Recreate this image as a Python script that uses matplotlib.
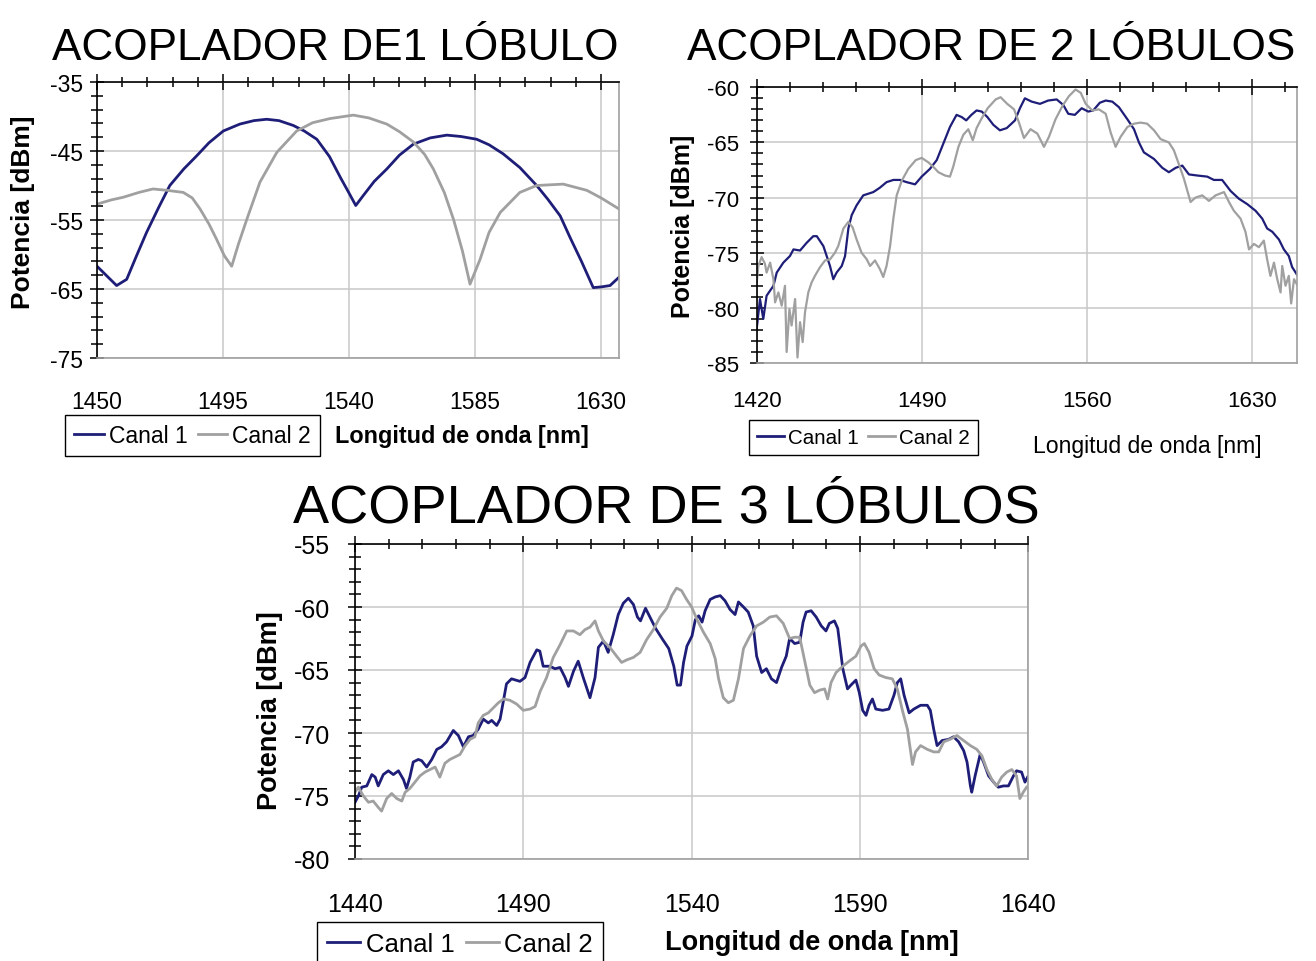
import matplotlib
matplotlib.use("Agg")
import matplotlib.pyplot as plt
from matplotlib.lines import Line2D
from matplotlib import font_manager
import numpy as np

plt.rcParams['font.family'] = ['Liberation Sans', 'DejaVu Sans']
plt.rcParams['axes.unicode_minus'] = False

# -----------------------------
# DATA
# -----------------------------

# 1 lobe coupler
lob1_c1_nm = [1450, 1453, 1457, 1460.6, 1464, 1467.7, 1472, 1476, 1481, 1485.6, 1490, 1495.1,
              1501, 1506, 1510.6, 1515, 1520.1, 1524, 1528.5, 1533, 1537, 1540, 1542.4, 1545,
              1549, 1553.5, 1558, 1563, 1569, 1574.9, 1580, 1585.6, 1590, 1595, 1601, 1607,
              1611, 1615.4, 1619, 1623, 1627.2, 1630, 1633.2, 1636.4]
lob1_c1_db = [-61.7, -62.9, -64.5, -63.6, -60.3, -56.8, -53.2, -50.0, -47.6, -45.7, -43.8, -42.1,
              -41.1, -40.6, -40.4, -40.6, -41.3, -42.1, -43.3, -45.8, -48.9, -51.1, -52.9, -51.5,
              -49.4, -47.6, -45.6, -44.0, -43.1, -42.7, -42.9, -43.3, -44.1, -45.4, -47.4, -50.0,
              -52.0, -54.4, -57.6, -61.0, -64.8, -64.7, -64.5, -63.3]
lob1_c2_nm = [1450, 1455, 1459.4, 1465, 1470, 1475, 1480.8, 1484, 1486.8, 1490, 1492.7, 1495.5,
              1498.1, 1500.5, 1503.5, 1508.2, 1514.2, 1521.3, 1527, 1533.2, 1541.5, 1547, 1553.5,
              1558, 1563, 1567, 1570.1, 1574, 1577.3, 1580.5, 1583.2, 1586.8, 1590, 1594, 1601,
              1607, 1616.5, 1624.9, 1630, 1636.4]
lob1_c2_db = [-52.7, -52.1, -51.7, -51.0, -50.5, -50.7, -51.0, -51.8, -53.4, -55.6, -57.8, -60.2,
              -61.7, -58.5, -54.9, -49.5, -45.2, -42.1, -40.9, -40.3, -39.8, -40.2, -41.1,
              -42.2, -43.7, -45.5, -47.6, -51.0, -54.9, -59.5, -64.3, -60.7, -56.8, -53.9, -51.0,
              -50.0, -49.8, -50.7, -51.8, -53.4]

# 2 lobe coupler
lob2_c1_nm = [1420, 1421.4, 1422.8, 1424.2, 1427.1, 1428.5, 1431.3, 1434.1, 1435.6, 1438.4, 1441.2,
              1444.0, 1445.5, 1448.3, 1449.7, 1451.1, 1452.5, 1453.9, 1456.1, 1457.5, 1458.9,
              1460.3, 1462.4, 1465.2, 1469.5, 1472.3, 1475.1, 1478.0, 1480.8, 1483.6, 1487.2,
              1490.0, 1493.5, 1496.4, 1499.2, 1502.0, 1504.8, 1507.0, 1508.9, 1511.1, 1513.3,
              1515.5, 1517.9, 1520.4, 1523.2, 1526.1, 1529.6, 1531.7, 1533.8, 1536.7, 1540.2,
              1543.7, 1547.3, 1550.1, 1552.2, 1555.0, 1557.9, 1560.7, 1562.8, 1565.6, 1568.1,
              1570.9, 1573.7, 1577.3, 1580.1, 1582.2, 1584.3, 1588.6, 1592.1, 1594.9, 1597.8,
              1600.6, 1603.4, 1607.0, 1611.2, 1614.0, 1617.5, 1621.1, 1624.6, 1628.2, 1631.7,
              1634.5, 1636.6, 1638.8, 1641.6, 1643.7, 1645.8, 1647.2, 1648.7, 1649.6]
lob2_c1_db = [-81.9, -79.2, -81.0, -78.9, -78.0, -76.8, -75.9, -75.3, -74.7, -74.8, -74.1,
              -73.5, -73.5, -74.4, -75.3, -76.2, -77.4, -76.8, -76.2, -75.3, -72.8,
              -71.6, -70.7, -69.8, -69.5, -69.1, -68.6, -68.4, -68.4, -68.6, -68.8,
              -68.1, -67.4, -66.6, -65.1, -63.6, -62.5, -62.7, -63.0, -62.5, -62.1,
              -62.2, -62.7, -63.4, -63.9, -63.7, -63.0, -61.9, -61.0, -61.3, -61.5,
              -61.2, -61.1, -61.6, -62.4, -62.5, -61.9, -62.2, -62.1, -61.4, -61.2,
              -61.3, -61.8, -62.9, -63.8, -65.0, -65.9, -66.5, -67.3, -67.7, -67.3,
              -67.1, -67.9, -68.0, -68.1, -68.4, -68.4, -69.4, -70.1, -70.6, -71.2,
              -71.9, -72.8, -73.1, -73.8, -74.7, -75.3, -76.3, -76.8, -77.1]
lob2_c2_nm = [1420, 1420.7, 1422.1, 1423.5, 1424.2, 1425.7, 1427.1, 1427.8, 1429.2, 1430.6, 1432.0,
              1432.7, 1433.9, 1434.8, 1436.3, 1437.3, 1438.4, 1439.5, 1440.5, 1441.9, 1443.3,
              1444.7, 1446.9, 1449.0, 1451.1, 1453.2, 1454.6, 1456.8, 1458.9, 1460.7, 1462.4,
              1464.5, 1466.7, 1468.1, 1470.2, 1472.3, 1473.7, 1475.1, 1476.6, 1478.0, 1479.4,
              1481.5, 1484.3, 1487.5, 1490.0, 1492.8, 1494.9, 1497.1, 1499.9, 1502.0, 1503.4,
              1505.6, 1507.7, 1509.8, 1511.7, 1513.3, 1515.5, 1518.0, 1521.4, 1523.5, 1526.3,
              1529.2, 1531.3, 1533.4, 1536.2, 1539.1, 1541.9, 1544.0, 1546.8, 1549.7, 1552.5,
              1555.3, 1557.5, 1559.6, 1562.4, 1565.2, 1568.1, 1570.2, 1572.3, 1574.4, 1577.3,
              1580.1, 1582.9, 1585.7, 1588.6, 1591.4, 1594.9, 1597.0, 1599.2, 1601.3, 1604.1,
              1606.2, 1609.1, 1611.9, 1614.7, 1618.3, 1620.4, 1622.5, 1625.3, 1627.4, 1628.9,
              1631.0, 1633.1, 1635.2, 1636.6, 1638.0, 1639.5, 1640.9, 1642.3, 1643.0, 1644.4,
              1645.8, 1646.8, 1648.0, 1649.6]
lob2_c2_db = [-77.7, -76.2, -75.4, -76.0, -76.8, -75.9, -77.4, -79.5, -78.6, -79.8, -78.0,
              -84.0, -80.1, -81.6, -79.2, -84.5, -81.3, -83.1, -80.4, -78.6, -77.7,
              -77.1, -76.3, -75.7, -75.6, -75.0, -74.4, -72.8, -72.2, -72.7, -73.8,
              -75.0, -75.6, -76.2, -75.7, -76.5, -77.2, -76.2, -74.4, -71.9, -69.8,
              -68.5, -67.4, -66.6, -66.4, -66.8, -67.2, -67.7, -68.0, -68.1, -67.2,
              -65.4, -64.3, -63.8, -64.8, -63.7, -62.8, -61.9, -61.1, -60.9, -61.5,
              -62.0, -63.2, -64.6, -63.8, -64.2, -65.4, -64.5, -62.9, -61.7, -60.8,
              -60.2, -60.5, -61.5, -62.1, -62.0, -62.4, -64.1, -65.4, -64.5, -63.6,
              -63.3, -63.2, -63.3, -63.9, -64.7, -65.0, -65.7, -67.0, -68.3, -70.4,
              -70.0, -69.8, -70.3, -69.8, -69.5, -70.4, -71.2, -71.9, -73.1, -74.7,
              -74.2, -74.5, -73.9, -75.6, -77.1, -75.9, -77.4, -78.6, -76.2, -78.0,
              -77.1, -79.6, -77.4, -78.0]

# 3 lobe coupler
lob3_c1_nm = [1440, 1441.0, 1442.0, 1443.5, 1445.0, 1446.0, 1446.9, 1448.4, 1449.9, 1451.4, 1452.9,
              1454.4, 1455.3, 1456.3, 1457.3, 1458.8, 1459.8, 1461.3, 1462.8, 1464.3, 1465.7,
              1467.2, 1469.2, 1470.7, 1472.2, 1473.7, 1475.1, 1476.6, 1478.1, 1479.6, 1480.6,
              1482.1, 1483.1, 1485.0, 1486.5, 1489.0, 1490.5, 1492.0, 1494.0, 1494.9, 1495.9,
              1497.9, 1499.4, 1500.9, 1502.4, 1503.4, 1504.9, 1506.3, 1507.8, 1509.8, 1511.3,
              1512.3, 1513.8, 1515.2, 1516.7, 1518.2, 1519.7, 1521.2, 1522.7, 1523.9, 1524.8,
              1526.3, 1527.8, 1529.3, 1531.2, 1533.2, 1534.7, 1535.7, 1536.7, 1537.6, 1538.6,
              1540.1, 1541.1, 1542.1, 1543.1, 1544.0, 1545.5, 1547.0, 1548.5, 1549.9, 1551.4,
              1552.9, 1553.9, 1555.4, 1556.8, 1558.3, 1559.3, 1560.8, 1562.2, 1563.7, 1565.2,
              1566.7, 1568.1, 1569.1, 1570.6, 1572.1, 1573.1, 1574.0, 1575.5, 1577.0, 1578.5,
              1579.9, 1580.9, 1582.4, 1583.4, 1584.9, 1586.3, 1587.3, 1588.8, 1589.8, 1590.8,
              1591.8, 1592.7, 1593.7, 1594.7, 1596.7, 1598.6, 1600.1, 1601.1, 1602.1, 1603.1,
              1604.6, 1606.0, 1608.0, 1610.0, 1610.9, 1611.9, 1612.9, 1614.4, 1616.4, 1617.8,
              1619.3, 1620.8, 1621.8, 1622.8, 1623.2, 1624.2, 1625.7, 1626.7, 1628.2, 1629.7,
              1631.1, 1632.6, 1634.1, 1635.6, 1636.5, 1638.0, 1639.0, 1639.8]
lob3_c1_db = [-75.5, -75.0, -74.3, -74.2, -73.3, -73.5, -74.2, -73.3, -73.0, -73.3, -73.0,
              -73.7, -74.4, -73.5, -72.3, -72.1, -72.2, -72.7, -72.1, -71.3, -71.1,
              -70.7, -69.8, -70.2, -71.1, -70.3, -70.2, -69.7, -68.9, -69.2, -69.0,
              -69.4, -68.9, -66.1, -65.7, -65.9, -65.6, -64.4, -63.4, -63.5, -64.7,
              -64.7, -64.9, -64.8, -65.6, -66.3, -65.1, -64.3, -65.6, -67.2, -65.6,
              -63.2, -62.7, -63.6, -62.2, -60.6, -59.7, -59.3, -59.8, -60.8, -61.1,
              -60.1, -60.9, -61.7, -62.5, -63.3, -64.7, -66.2, -66.2, -64.4, -63.1,
              -62.3, -61.0, -60.7, -61.2, -60.3, -59.4, -59.2, -59.1, -59.5, -60.2,
              -60.6, -59.6, -60.0, -60.4, -61.5, -63.9, -65.2, -64.9, -65.7, -66.0,
              -64.8, -63.9, -62.5, -62.9, -62.8, -61.2, -60.4, -60.3, -60.8, -61.5,
              -61.9, -61.3, -61.1, -61.7, -64.9, -66.5, -66.2, -65.8, -66.8, -68.2,
              -68.6, -67.8, -67.3, -68.1, -68.2, -68.1, -67.0, -66.0, -65.7, -67.0,
              -68.4, -68.1, -67.8, -67.8, -68.2, -69.7, -71.0, -70.6, -70.5, -70.3,
              -70.7, -71.4, -72.3, -74.2, -74.7, -73.4, -71.7, -72.3, -73.4, -73.9,
              -74.3, -74.2, -74.2, -73.4, -73.0, -73.1, -73.9, -73.5]
lob3_c2_nm = [1440, 1441.0, 1442.5, 1444.0, 1445.4, 1446.9, 1447.9, 1449.4, 1450.9, 1452.4, 1453.9,
              1454.9, 1456.3, 1457.8, 1459.3, 1460.8, 1462.3, 1463.8, 1465.2, 1466.7, 1468.2,
              1469.7, 1471.2, 1472.7, 1474.2, 1475.6, 1476.6, 1478.1, 1479.6, 1481.1, 1482.6,
              1484.1, 1486.0, 1488.0, 1490.0, 1492.0, 1493.5, 1495.0, 1496.9, 1498.9, 1500.9,
              1502.9, 1504.9, 1506.8, 1508.3, 1509.8, 1511.3, 1512.3, 1513.8, 1515.7, 1517.7,
              1519.2, 1520.7, 1522.7, 1524.7, 1526.6, 1528.6, 1530.6, 1532.6, 1534.1, 1535.5,
              1537.0, 1538.5, 1540.0, 1541.6, 1543.5, 1545.5, 1547.0, 1548.0, 1549.4, 1550.9,
              1552.4, 1553.9, 1555.4, 1557.3, 1559.3, 1561.3, 1563.2, 1565.2, 1567.2, 1569.1,
              1570.6, 1572.1, 1573.6, 1575.1, 1576.5, 1578.0, 1579.5, 1580.4, 1581.4, 1582.9,
              1584.9, 1586.8, 1588.8, 1590.3, 1591.3, 1592.7, 1594.2, 1595.7, 1597.7, 1599.6,
              1601.1, 1602.6, 1604.1, 1605.6, 1606.5, 1608.0, 1610.0, 1611.9, 1613.4, 1614.9,
              1616.8, 1618.8, 1620.8, 1622.8, 1624.7, 1626.2, 1627.7, 1629.2, 1630.6, 1632.1,
              1633.6, 1635.1, 1636.5, 1637.5, 1638.5, 1639.5]
lob3_c2_db = [-74.7, -74.3, -75.0, -75.5, -75.4, -75.9, -76.2, -75.2, -74.8, -75.2, -75.4,
              -74.7, -74.4, -73.9, -73.4, -73.1, -72.9, -72.7, -73.5, -72.4, -72.1,
              -71.9, -71.7, -71.0, -70.5, -70.3, -69.2, -68.6, -68.4, -68.0, -67.6,
              -67.3, -67.4, -67.7, -68.2, -68.1, -67.9, -66.7, -65.6, -64.0, -63.0,
              -61.9, -61.9, -62.2, -61.8, -61.6, -61.1, -61.9, -62.7, -63.2, -63.9,
              -64.4, -64.2, -64.0, -63.6, -62.6, -61.8, -60.8, -60.1, -59.1, -58.5,
              -58.7, -59.4, -60.0, -61.0, -62.0, -62.9, -64.1, -65.7, -67.2, -67.6,
              -67.4, -65.7, -63.3, -62.3, -61.5, -61.2, -60.8, -60.7, -61.3, -62.5,
              -62.4, -62.4, -64.3, -66.2, -66.8, -66.6, -66.5, -67.3, -66.0, -65.2,
              -64.7, -64.3, -63.9, -63.1, -62.9, -63.6, -64.9, -65.4, -65.6, -65.7,
              -66.5, -68.2, -69.7, -72.5, -71.5, -71.0, -71.3, -71.5, -71.5, -70.7,
              -70.5, -70.2, -70.6, -71.0, -71.3, -71.8, -72.9, -73.7, -74.2, -73.5,
              -73.1, -72.9, -73.4, -75.2, -74.7, -74.3]

# axis ticks
lob1_xticks = [1450, 1495, 1540, 1585, 1630]
lob1_yticks = [-75, -65, -55, -45, -35]
lob2_xticks = [1420, 1490, 1560, 1630]
lob2_yticks = [-85, -80, -75, -70, -65, -60]
lob3_xticks = [1440, 1490, 1540, 1590, 1640]
lob3_yticks = [-80, -75, -70, -65, -60, -55]

titles = ['ACOPLADOR DE1 LÓBULO', 'ACOPLADOR DE 2 LÓBULOS', 'ACOPLADOR DE 3 LÓBULOS']
series_names = ['Canal 1', 'Canal 2']

# -----------------------------
# FIGURE
# -----------------------------

W, H = 1316, 962
NAVY = '#1e1e78'
GRAY = '#a0a0a0'
GRID = '#c8c8c8'


def fx(px):
    return px / W


def fy(py):
    return 1 - py / H


fig = plt.figure(figsize=(W / 100, H / 100), dpi=100)


def panel(l, t, r, b, xlim, ylim, xt, xminor, yt, yminor, fs, xpad, ypad):
    ax = fig.add_axes([fx(l), fy(b), (r - l) / W, (b - t) / H])
    ax.set_xlim(*xlim)
    ax.set_ylim(*ylim)
    ax.set_xticks(xt)
    ax.set_xticks(np.arange(xlim[0], xlim[1] + 0.01, xminor), minor=True)
    ax.set_yticks(yt)
    ax.set_yticks(np.arange(ylim[0], ylim[1] + 0.01, yminor), minor=True)
    ax.set_xticklabels([str(v) for v in xt])
    ax.set_yticklabels([str(v) for v in yt])
    ax.tick_params(axis='x', which='both', bottom=False, top=True, labelbottom=True,
                   labeltop=False, direction='inout', labelsize=fs, width=1.1)
    ax.tick_params(axis='x', which='major', length=11.5, pad=xpad)
    ax.tick_params(axis='x', which='minor', length=7)
    ax.tick_params(axis='y', which='both', left=True, right=False, direction='inout',
                   labelsize=fs, width=1.1)
    ax.tick_params(axis='y', which='major', length=10, pad=ypad)
    ax.tick_params(axis='y', which='minor', length=8)
    ax.grid(True, which='major', color=GRID, lw=1.1)
    ax.set_axisbelow(True)
    for s in ['left', 'top']:
        ax.spines[s].set_color('black')
        ax.spines[s].set_linewidth(1.2)
    for s in ['bottom', 'right']:
        ax.spines[s].set_color(GRAY)
        ax.spines[s].set_linewidth(1.2)
    return ax


def legend(x, y, fs):
    handles = [Line2D([], [], color=NAVY, lw=2), Line2D([], [], color=GRAY, lw=2)]
    leg = fig.legend(handles, series_names, loc='upper left', bbox_to_anchor=(fx(x), fy(y)),
                     ncol=2, frameon=True, fancybox=False, edgecolor='black', framealpha=1,
                     fontsize=fs, handlelength=1.3, handletextpad=0.2, columnspacing=0.45,
                     borderpad=0.4, borderaxespad=0)
    leg.get_frame().set_linewidth(1.0)


# titles: the original lettering is condensed
names = {f.name for f in font_manager.fontManager.ttflist}
if 'Liberation Sans Narrow' in names:
    tfam, tsize = 'Liberation Sans Narrow', 39.5
else:
    tfam, tsize = 'Liberation Sans', 31.8
fig.text(fx(335), fy(60), titles[0], ha='center', va='baseline', fontsize=tsize, family=tfam)
fig.text(fx(991.5), fy(60), titles[1], ha='center', va='baseline', fontsize=tsize, family=tfam)
fig.text(fx(666.5), fy(523), titles[2], ha='center', va='baseline', fontsize=39)

# panel 1
ax1 = panel(97, 83, 619, 359, (1450, 1636.4), (-75, -35), lob1_xticks, 9,
            lob1_yticks, 2, 16.5, 17, 5)
ax1.plot(lob1_c1_nm, lob1_c1_db, color=NAVY, lw=2)
ax1.plot(lob1_c2_nm, lob1_c2_db, color=GRAY, lw=2)
legend(65, 416, 16.5)
fig.text(fx(461.5), fy(437), 'Longitud de onda [nm]', ha='center', va='center',
         fontsize=16.8, fontweight='bold')
fig.text(fx(23), fy(212), 'Potencia [dBm]', ha='center', va='center', rotation=90,
         fontsize=19, fontweight='bold')

# panel 2
ax2 = panel(756.7, 88.3, 1297.3, 364, (1420, 1649.4), (-85, -60), lob2_xticks, 14,
            lob2_yticks, 1, 16, 13.5, 8)
ax2.plot(lob2_c1_nm, lob2_c1_db, color=NAVY, lw=1.6)
ax2.plot(lob2_c2_nm, lob2_c2_db, color=GRAY, lw=1.6)
legend(749, 420.7, 14.8)
fig.text(fx(1147), fy(447), 'Longitud de onda [nm]', ha='center', va='center', fontsize=16.6)
fig.text(fx(683), fy(226), 'Potencia [dBm]', ha='center', va='center', rotation=90,
         fontsize=18, fontweight='bold')

# panel 3
ax3 = panel(355, 545, 1028.3, 860, (1440, 1640), (-80, -55), lob3_xticks, 10,
            lob3_yticks, 1, 18, 18, 13)
ax3.plot(lob3_c1_nm, lob3_c1_db, color=NAVY, lw=2)
ax3.plot(lob3_c2_nm, lob3_c2_db, color=GRAY, lw=2)
legend(316.7, 923, 18.5)
fig.text(fx(811.5), fy(943), 'Longitud de onda [nm]', ha='center', va='center',
         fontsize=19.5, fontweight='bold')
fig.text(fx(270), fy(711), 'Potencia [dBm]', ha='center', va='center', rotation=90,
         fontsize=19.5, fontweight='bold')

fig.savefig("out.png", dpi=100)
